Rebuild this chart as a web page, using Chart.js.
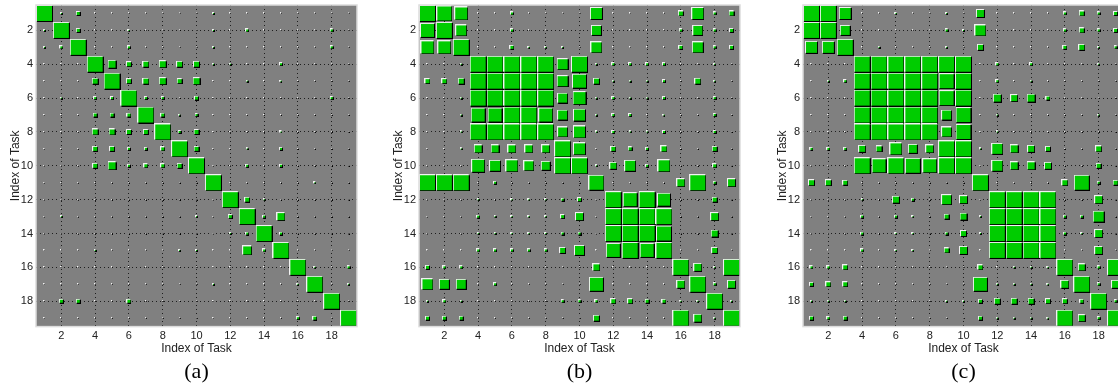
<!DOCTYPE html>
<html>
<head>
<meta charset="utf-8">
<script src="https://cdn.jsdelivr.net/npm/chart.js@4/dist/chart.umd.min.js"></script>
<style>
html, body { margin: 0; padding: 0; background: #fff; overflow: hidden; width: 1118px; height: 389px; }
.panel { position: absolute; top: 0; width: 372px; height: 389px; }
</style>
</head>
<body>
<div class="panel" style="left:0px"><canvas id="chartA" width="372" height="389"></canvas></div>
<div class="panel" style="left:383px"><canvas id="chartB" width="372" height="389"></canvas></div>
<div class="panel" style="left:767px"><canvas id="chartC" width="372" height="389"></canvas></div>
<script>
// tick positions on both axes
const taskTicks = [2, 4, 6, 8, 10, 12, 14, 16, 18];
const captions = ['(a)', '(b)', '(c)'];

// square side, in percent of one cell (rows = task index 1..19 from the top)
const matrixA = [
	[95,10,22, 8, 5, 5, 5, 5, 5, 5,12, 5, 5, 5, 5, 5, 5, 5, 5],
	[10,95,25, 5, 5,12, 5, 5, 5, 5,12, 5,15, 5, 5, 5, 5,15, 5],
	[10,20,95, 5, 5,15, 5, 5, 5, 5,12, 5, 5, 5, 5, 5, 5,20, 5],
	[ 8, 8, 8,95,45,30,35,40,35,38,10,10, 5, 5,15, 5, 5, 5, 5],
	[ 5, 5, 5,35,95,30,35,40,30,40, 5, 5,10, 5,12, 5, 5, 5, 5],
	[ 5,10, 8,15,20,95,20,20, 5,25, 5, 5, 5, 5, 5, 5, 5,15, 5],
	[ 5, 5, 5,25,25,25,95,25,12,20, 5, 5, 5, 5, 5, 5, 5, 5, 5],
	[ 5, 5, 5,35,35,30,30,95,15,28, 5, 5, 5, 5,12, 5, 5, 5, 5],
	[ 5, 5, 5,28,28,18,20,25,95,30, 5, 5,10, 5,20, 5, 5, 5, 5],
	[ 5, 5, 5,30,45,15,25,25,28,95, 5, 5,15, 5,20, 5, 5, 5, 5],
	[ 5, 5, 5, 5, 5, 5, 5, 5, 5, 5,95, 5, 5, 5, 5, 5,10, 5, 5],
	[ 5, 5, 5, 5, 5, 5, 5, 5, 5, 5, 5,95,30,10, 5, 5, 5, 5, 5],
	[ 5,12, 5, 5, 5, 5, 5, 5, 5,12, 5,25,95,20,45, 5, 5, 5, 5],
	[ 5, 5, 5, 5, 5, 5, 5, 5, 5, 5, 8,10,20,95,15, 5, 5, 5, 5],
	[ 5, 5, 5,12, 5, 5, 5, 5,10,12, 8, 5,55,15,95, 5, 5, 5, 5],
	[ 5, 5, 5, 5, 5, 5, 5, 5, 5, 5, 5, 5, 5, 5, 5,95,10, 5,20],
	[ 5, 5, 5, 5, 5, 5, 5, 5, 5, 5,10, 5, 5, 5, 5,10,95, 5,10],
	[ 5,25,25, 5, 5,22, 5, 5, 5, 5, 5, 5, 5, 5, 5, 5, 5,95, 5],
	[ 5, 5, 5, 5, 5, 5, 5, 5, 5, 5, 5, 5, 5, 5, 5,15,25, 5,95]
];

const matrixB = [
	[95,90,75, 5, 5,20, 5, 5, 5, 5,70, 5, 5, 5, 5,30,70,20,30],
	[80,95,65, 5, 5,20, 5, 5, 5, 5,60, 5, 5, 5, 5,20,60,20,25],
	[75,75,95, 5, 8,22,10,10,10, 5,65, 5, 5, 5, 8,25,65,15,25],
	[ 5, 5,12,95,95,95,95,95,65,95,12,20,15,15,15, 5, 5,12, 5],
	[30,30,35,95,95,95,95,95,65,80,35,12,12,12,15, 5,35,12, 5],
	[ 5, 5,12,95,95,95,95,95,60,75,12,15,12,12,15, 5, 5,20, 5],
	[ 5, 5,12,80,85,95,95,80,60,70,12,15,15, 5,12, 5, 5,20, 5],
	[ 5, 5,12,95,95,95,95,95,60,70,12,15,12,12,15, 5, 5,20, 5],
	[ 5, 5,12,50,45,50,45,45,95,70, 8,30,25,20,35, 5, 5,30, 5],
	[ 5, 5, 5,75,65,70,60,55,95,95,10,40,65,20,70, 5, 5,25, 5],
	[95,95,95, 5,15, 5, 5, 5, 5, 5,90, 5, 5, 5, 5,50,95,20,45],
	[ 5, 5, 5,12, 5,10,10,10,20,25, 5,95,80,95,75, 5, 5,30, 5],
	[ 5, 5, 5,18,10,10,12,10,25,45, 5,95,95,95,95, 5, 5,45, 5],
	[ 5, 5, 5,10,10,10,10,10,20,20, 5,95,95,95,90, 5, 5,40, 5],
	[ 5, 5, 5,18,18,18,15,15,35,60, 5,80,95,80,95, 5, 5,35, 5],
	[25,20,20, 5, 5, 5, 5, 5, 5, 5,40, 5, 5, 5, 5,95,45,12,95],
	[65,60,60, 5,20, 5, 5, 5, 5, 5,80, 5, 5, 5, 5,45,95,15,45],
	[10,15,12, 5, 5, 5, 5, 5,20,15,20,30,30,25,25,12,10,95,12],
	[25,25,25, 5, 5, 5, 5, 5, 5, 5,35, 5, 5, 5, 5,95,45,12,95]
];

const matrixC = [
	[95,95,70, 5, 5,10, 5, 5,10, 5,45, 5, 5, 5, 5,15,30,15,25],
	[95,95,60, 5, 5, 5, 5, 5,15,10,65, 5, 5, 5, 5,20,30,15,25],
	[70,70,95, 5,10, 5, 5, 5,10, 5,35, 5, 5, 5, 5,25,35,10,20],
	[ 5, 5, 5,95,95,95,95,95,95,95, 5,15, 5,15, 5, 5, 5,10, 5],
	[ 5,10,15,95,95,95,95,95,90,95, 5,15, 5,12, 5, 5, 5, 5, 5],
	[ 5, 5, 5,95,95,95,95,95,90,95, 5,50,40,45,25, 5, 5, 5, 5],
	[ 5, 5, 5,95,95,95,95,95,60,90, 5,12, 5, 5, 5, 5, 5,10, 5],
	[ 5, 5, 5,95,95,95,95,95,60,90, 5,12, 5, 5, 5, 5, 5, 5, 5],
	[15,15,15,40,35,70,55,45,95,95,12,65,50,40,30, 5, 5,35, 5],
	[ 5, 5, 5,95,80,95,90,80,95,95, 5,65,45,45,40, 5, 5,30, 5],
	[35,35,30, 5, 5, 5, 5, 5, 5, 5,95, 5, 5, 5, 5,35,90,20,30],
	[ 5, 5, 5,10, 5,40,20, 5,60,50, 5,95,95,95,95, 5, 5,50, 5],
	[ 5, 5, 5,15, 5,15,12, 5,30,40,10,95,95,95,95,20,20,65, 5],
	[ 5, 5, 5,15, 5,10,10, 5,20,35,10,95,95,95,95,15,12,50, 5],
	[ 5, 5, 5,20, 5,10,10, 5,30,45, 8,95,95,95,95, 5, 5,50, 5],
	[20,20,30, 5, 5, 5, 5, 5, 5, 5,30, 5,10,10,10,95,40,20,95],
	[25,30,30, 5, 5, 5, 5, 5, 5, 5,85,10,10,10,10,45,95,20,45],
	[12,12,10, 5, 5, 5, 5, 5,12,10,25,35,35,35,30,30,25,95,20],
	[25,20,25, 5, 5, 5, 5, 5, 5, 5,25,10,10,10,10,95,40,20,95]
];

const GREEN = '#00cc00';
const spriteCache = {};

// bevelled square: light top/left edge, black bottom/right edge
function squareSprite(side) {
	if (spriteCache[side]) return spriteCache[side];
	const c = document.createElement('canvas');
	c.width = side + 1;
	c.height = side + 1;
	const g = c.getContext('2d');
	g.fillStyle = '#f2f2f2';
	g.fillRect(0, 0, side, side);
	g.fillStyle = '#000';
	g.fillRect(1, 1, side, side);
	if (side > 1) {
		g.fillStyle = GREEN;
		g.fillRect(1, 1, side - 1, side - 1);
	}
	spriteCache[side] = c;
	return c;
}

const plotBox = {
	id: 'plotBox',
	beforeDraw(chart, args, options) {
		const {ctx, chartArea: {left, top, width, height}} = chart;
		ctx.save();
		ctx.fillStyle = options.fill;
		ctx.fillRect(left, top, width, height);
		ctx.restore();
	},
	afterDatasetsDraw(chart, args, options) {
		const {ctx, chartArea: {left, top, width, height}} = chart;
		ctx.save();
		ctx.strokeStyle = options.borderColor;
		ctx.lineWidth = options.borderWidth;
		ctx.strokeRect(left, top, width, height);
		ctx.restore();
	}
};

function axisOptions(isX) {
	return {
		type: 'linear',
		min: 0.5,
		max: 19.5,
		reverse: !isX,
		afterBuildTicks: (scale) => { scale.ticks = taskTicks.map(v => ({value: v})); },
		afterFit: (scale) => {
			if (isX) {
				scale.height = 32;
			} else {
				scale.width = 36;
				// ticks never sit on the plot edge, so no room is needed for them
				scale.paddingTop = 0;
				scale.paddingBottom = 0;
			}
		},
		grid: { color: '#1e1e1e', lineWidth: 1, drawTicks: false },
		border: { display: false, dash: [1, 3] },
		ticks: {
			padding: 3,
			color: '#222',
			font: { family: 'Liberation Sans', size: 11 }
		},
		title: {
			display: true,
			text: 'Index of Task',
			color: '#222',
			font: { family: 'Liberation Sans', size: 12 },
			padding: isX ? { top: 0, bottom: 3 } : { top: 8, bottom: 0 }
		}
	};
}

function makeChart(id, matrix, caption) {
	const points = [];
	matrix.forEach((row, r) => {
		row.forEach((v, c) => points.push({x: c + 1, y: r + 1, v: v}));
	});

	return new Chart(document.getElementById(id), {
		type: 'scatter',
		data: {
			datasets: [{
				data: points,
				pointRadius: 3,
				pointStyle: function(ctx) {
					if (!ctx.raw) return 'rect';
					const sx = ctx.chart.scales.x;
					const cell = Math.abs(sx.getPixelForValue(1) - sx.getPixelForValue(0)) || 16.9;
					return squareSprite(Math.max(1, Math.round(ctx.raw.v / 100 * cell)));
				}
			}]
		},
		options: {
			responsive: false,
			animation: false,
			events: [],
			devicePixelRatio: 1,
			layout: { padding: { left: 0, right: 15, top: 3, bottom: 0 } },
			scales: {
				x: axisOptions(true),
				y: axisOptions(false)
			},
			plugins: {
				legend: { display: false },
				tooltip: { enabled: false },
				title: {
					display: true,
					text: caption,
					position: 'bottom',
					fullSize: false,
					color: '#000',
					font: { family: 'Liberation Serif', size: 22, weight: 'normal' },
					padding: { top: 0, bottom: 4 }
				},
				plotBox: {
					fill: '#808080',
					borderColor: '#dcdcdc',
					borderWidth: 1.5
				}
			}
		},
		plugins: [plotBox]
	});
}

makeChart('chartA', matrixA, captions[0]);
makeChart('chartB', matrixB, captions[1]);
makeChart('chartC', matrixC, captions[2]);
</script>
</body>
</html>
